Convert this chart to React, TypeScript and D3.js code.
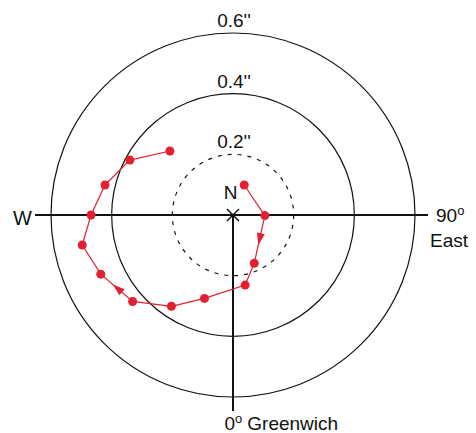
import React from "react";
import * as d3 from "d3";

// Polar motion path: x = arcsec toward 90° East (right), y = arcsec toward 0° Greenwich (down)
const xArcsec = [0.037, 0.105, 0.07, 0.04, -0.094, -0.203, -0.331, -0.436, -0.497, -0.468, -0.422, -0.34, -0.208];
const yArcsec = [-0.099, 0.002, 0.159, 0.231, 0.275, 0.301, 0.285, 0.195, 0.099, 0.0, -0.099, -0.181, -0.211];
const ringValues = [0.2, 0.4, 0.6];
const ringLabels = ["0.2''", "0.4''", "0.6''"];
const arrowSegments = [1, 6];

const W = 476;
const H = 433;
const cx = 233;
const cy = 215;
const R = 182;
const RED = "#e2202f";
const FONT = "'Liberation Sans', Arial, Helvetica, sans-serif";

export default function App() {
  const r = d3.scaleLinear().domain([0, 0.6]).range([0, R]);
  const sx = d3.scaleLinear().domain([-0.6, 0.6]).range([cx - R, cx + R]);
  const sy = d3.scaleLinear().domain([-0.6, 0.6]).range([cy - R, cy + R]);
  const pts: [number, number][] = xArcsec.map((x, i) => [sx(x), sy(yArcsec[i])]);
  const path = d3.line()(pts) || "";

  const arrows = arrowSegments.map((i) => {
    const [x0, y0] = pts[i];
    const [x1, y1] = pts[i + 1];
    const t = 0.62;
    const tx = x0 + (x1 - x0) * t;
    const ty = y0 + (y1 - y0) * t;
    const ang = (Math.atan2(y1 - y0, x1 - x0) * 180) / Math.PI;
    return { tx, ty, ang };
  });

  return (
    <svg width={W} height={H} style={{ display: "block", position: "absolute", left: 0, top: 0 }}>
      <rect width={W} height={H} fill="#fff" />
      {ringValues.map((v, i) => (
        <circle
          key={v}
          cx={cx}
          cy={cy}
          r={r(v)}
          fill="none"
          stroke="#111"
          strokeWidth={1.2}
          strokeDasharray={i === 0 ? "4 6" : undefined}
        />
      ))}
      {ringValues.map((v, i) => (
        <text
          key={"l" + v}
          x={cx + 1}
          y={cy - r(v) - 6}
          textAnchor="middle"
          fontFamily={FONT}
          fontSize={19}
          fill="#111"
        >
          {ringLabels[i]}
        </text>
      ))}
      <line x1={35} x2={428} y1={cy} y2={cy} stroke="#111" strokeWidth={2} />
      <line x1={cx} x2={cx} y1={cy} y2={411} stroke="#111" strokeWidth={2} />
      <line x1={cx - 6} x2={cx + 6} y1={cy - 6} y2={cy + 6} stroke="#111" strokeWidth={1.5} />
      <line x1={cx - 6} x2={cx + 6} y1={cy + 6} y2={cy - 6} stroke="#111" strokeWidth={1.5} />

      <path d={path} fill="none" stroke={RED} strokeWidth={1.2} />
      {pts.map(([x, y], i) => (
        <circle key={"p" + i} cx={x} cy={y} r={4.5} fill={RED} />
      ))}
      {arrows.map((a, i) => (
        <polygon
          key={"a" + i}
          points="0,0 -12,-4 -12,4"
          fill={RED}
          transform={`translate(${a.tx},${a.ty}) rotate(${a.ang})`}
        />
      ))}

      <text x={230.5} y={199} textAnchor="middle" fontFamily={FONT} fontSize={19} fill="#111">N</text>
      <text x={22.5} y={225} textAnchor="middle" fontFamily={FONT} fontSize={20} fill="#111">W</text>
      <text x={436} y={222} fontFamily={FONT} fontSize={19} fill="#111">
        90<tspan dy={-7} fontSize={13}>o</tspan>
      </text>
      <text x={430} y={247} fontFamily={FONT} fontSize={19} fill="#111">East</text>
      <text x={224.5} y={430} fontFamily={FONT} fontSize={19} fill="#111">
        0<tspan dy={-7} fontSize={13}>o</tspan>
        <tspan dy={7} dx={5}>Greenwich</tspan>
      </text>
    </svg>
  );
}
